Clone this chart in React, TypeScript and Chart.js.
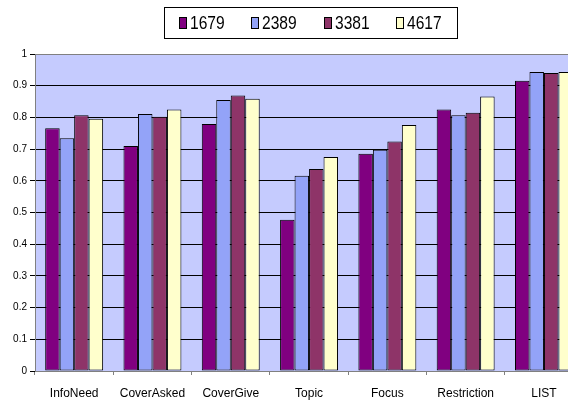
import { useEffect, useRef } from 'react';
import { Chart, registerables } from 'chart.js';

Chart.register(...registerables);

const categories = ['InfoNeed', 'CoverAsked', 'CoverGive', 'Topic', 'Focus', 'Restriction', 'LIST'];
const seriesLabels = ['1679', '2389', '3381', '4617'];
const values1679 = [0.766, 0.710, 0.779, 0.477, 0.685, 0.825, 0.916];
const values2389 = [0.734, 0.811, 0.855, 0.616, 0.698, 0.807, 0.943];
const values3381 = [0.807, 0.802, 0.869, 0.637, 0.724, 0.815, 0.940];
const values4617 = [0.796, 0.825, 0.859, 0.675, 0.776, 0.866, 0.943];
const yTickValues = [0, 0.1, 0.2, 0.3, 0.4, 0.5, 0.6, 0.7, 0.8, 0.9, 1];
const seriesColors = ['#800080', '#93A3F8', '#8E3468', '#FFFFCC'];

const FONT = "'Liberation Sans', Arial, sans-serif";

const plotBackground = {
  id: 'plotBackground',
  beforeDraw(chart: any) {
    const { ctx, chartArea } = chart;
    ctx.save();
    ctx.fillStyle = '#C5CBFE';
    ctx.fillRect(chartArea.left, chartArea.top, chartArea.right - chartArea.left, chartArea.bottom - chartArea.top);
    ctx.restore();
  },
};

const boxedLegend = {
  id: 'boxedLegend',
  afterDraw(chart: any) {
    const ctx = chart.ctx;
    const left = 164;
    const top = 7;
    const w = 293;
    const h = 31;
    const squeeze = 0.82;
    ctx.save();
    ctx.fillStyle = '#ffffff';
    ctx.fillRect(left, top, w, h);
    ctx.strokeStyle = '#000000';
    ctx.lineWidth = 1;
    ctx.strokeRect(left + 0.5, top + 0.5, w, h);
    ctx.font = `19px ${FONT}`;
    ctx.textBaseline = 'alphabetic';
    ctx.textAlign = 'left';
    const datasets = chart.data.datasets;
    const widths = datasets.map((d: any) => 8 + 3 + ctx.measureText(d.label).width * squeeze);
    const gap = 26.7;
    const total = widths.reduce((a: number, b: number) => a + b, 0) + gap * (datasets.length - 1);
    let x = left + (w - total) / 2;
    datasets.forEach((d: any, i: number) => {
      const bx = Math.round(x);
      ctx.fillStyle = d.backgroundColor;
      ctx.fillRect(bx, 17, 8, 12);
      ctx.strokeStyle = '#000000';
      ctx.strokeRect(bx + 0.5, 17.5, 7, 11);
      ctx.fillStyle = '#000000';
      ctx.save();
      ctx.translate(bx + 11, 29);
      ctx.scale(squeeze, 1);
      ctx.fillText(d.label, 0, 0);
      ctx.restore();
      x += widths[i] + gap;
    });
    ctx.restore();
  },
};

export default function App() {
  const canvasRef = useRef<HTMLCanvasElement | null>(null);

  useEffect(() => {
    document.body.style.margin = '0';
    const canvas = canvasRef.current;
    if (!canvas) return;
    const allValues = [values1679, values2389, values3381, values4617];
    const chart = new Chart(canvas, {
      type: 'bar',
      data: {
        datasets: seriesLabels.map((label, s) => ({
          label,
          data: categories.map((_, i) => ({ x: i, y: allValues[s][i] })),
          backgroundColor: seriesColors[s],
          borderColor: '#000000',
          borderWidth: 1,
          borderSkipped: false,
          categoryPercentage: 0.74,
          barPercentage: 1.0,
        })),
      },
      options: {
        animation: false,
        responsive: true,
        maintainAspectRatio: false,
        layout: { padding: { top: 54, left: 0, right: 0, bottom: 0 } },
        plugins: {
          legend: { display: false },
          tooltip: { enabled: false },
        },
        scales: {
          x: {
            type: 'linear',
            offset: false,
            min: -0.5,
            max: 6.307,
            afterBuildTicks: (scale: any) => {
              scale.ticks = categories.map((_, i) => ({ value: i }));
            },
            afterFit: (scale: any) => {
              scale.height = 31;
            },
            ticks: {
              autoSkip: false,
              maxRotation: 0,
              padding: 11,
              color: '#000000',
              font: { family: FONT, size: 12 },
              callback: (_v: any, index: number) => categories[index],
            },
            grid: {
              display: true,
              drawOnChartArea: false,
              offset: true,
              tickLength: 4,
              tickColor: '#808080',
            },
            border: { color: '#808080', width: 1 },
          },
          y: {
            min: 0,
            max: 1,
            afterBuildTicks: (scale: any) => {
              scale.ticks = yTickValues.map((v) => ({ value: v }));
            },
            afterFit: (scale: any) => {
              scale.width = 35;
            },
            ticks: {
              padding: 3,
              color: '#000000',
              font: { family: FONT, size: 10 },
              callback: (v: any) => String(Math.round(Number(v) * 10) / 10),
            },
            grid: {
              color: (ctx: any) => (ctx.tick && ctx.tick.value === 1 ? '#808080' : '#000000'),
              tickColor: '#000000',
              tickLength: 5,
              lineWidth: 1,
            },
            border: { color: '#808080', width: 1 },
          },
        },
      },
      plugins: [plotBackground, boxedLegend],
    } as any);
    return () => chart.destroy();
  }, []);

  return (
    <div style={{ position: 'relative', width: 568, height: 402, background: '#ffffff' }}>
      <canvas ref={canvasRef} />
    </div>
  );
}
